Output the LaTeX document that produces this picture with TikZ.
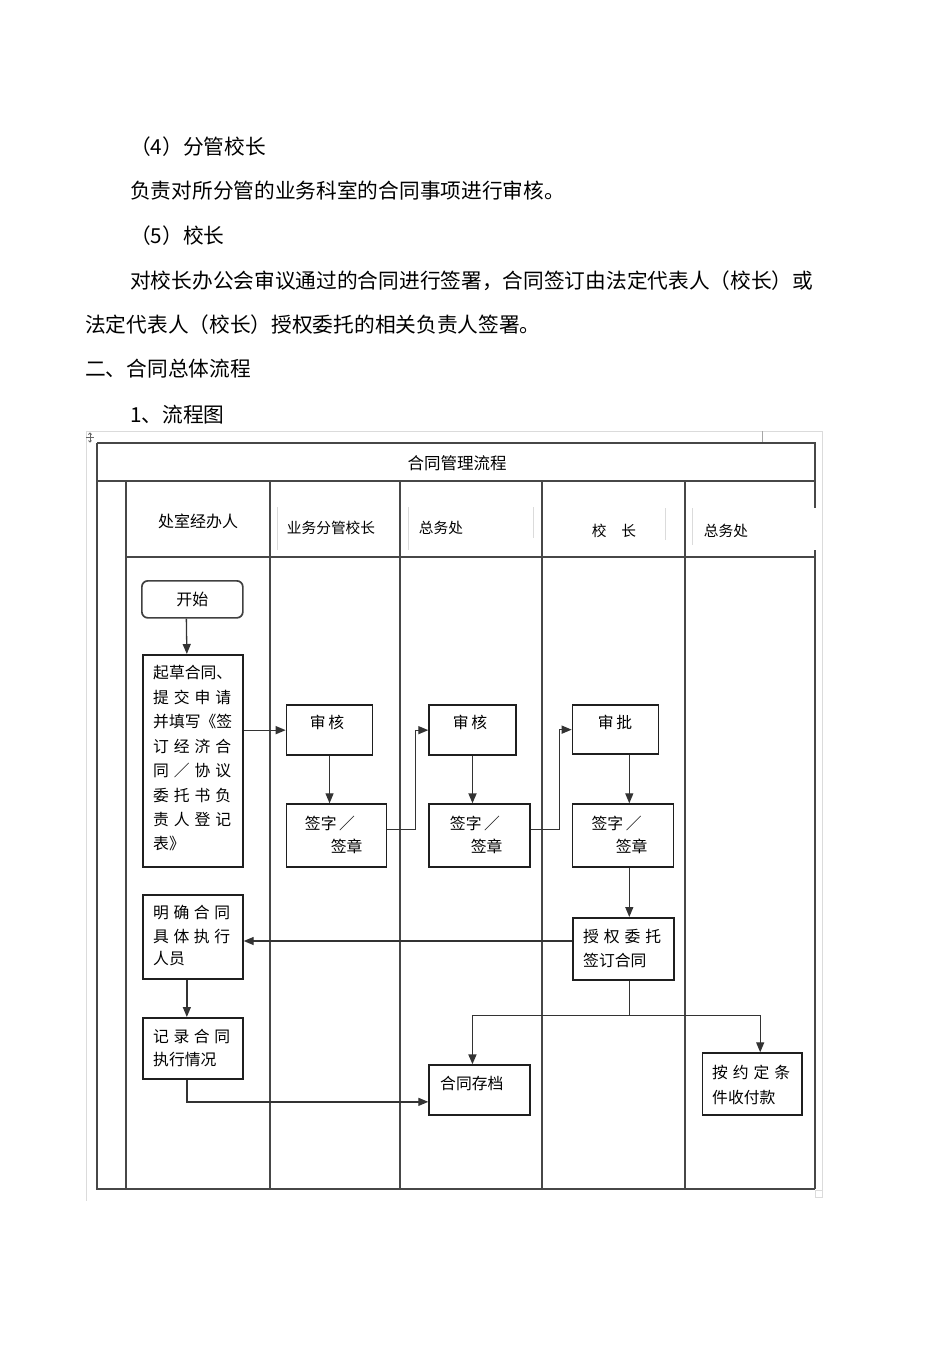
\documentclass[tikz,border=0pt]{standalone}
\usepackage{fontspec}
\setmainfont{Noto Sans CJK SC}
\usetikzlibrary{arrows.meta}
\begin{document}
\begin{tikzpicture}[x=1pt,y=-1pt,
  frame/.style={draw=black!72, line width=1.4pt},
  faint/.style={draw=black!14, line width=1pt},
  faintdark/.style={draw=black!35, line width=1pt},
  box/.style={draw=black!88, line width=1.7pt, rectangle, inner sep=0pt, anchor=north west},
  conn/.style={draw=black!80, line width=1.3pt},
  arr/.style={conn, -{Triangle[length=10pt,width=8pt]}},
  body/.style={anchor=west, inner sep=0pt, font=\fontsize{20.7}{24}\selectfont},
  flow/.style={inner sep=0pt, font=\fontsize{15.8}{19}\selectfont},
  head/.style={inner sep=0pt, font=\fontsize{14.7}{18}\selectfont},
  lt/.style={flow, anchor=west}
]
\useasboundingbox (0,0) rectangle (950,1346);

% ---------- body text ----------
\node[body] (p1) at (130,147) {（4）分管校长};
\node[body] (p2) at (130,191) {负责对所分管的业务科室的合同事项进行审核。};
\node[body] (p3) at (130,236) {（5）校长};
\node[body] (p4) at (130,281) {对校长办公会审议通过的合同进行签署，合同签订由法定代表人（校长）或};
\node[body] (p5) at (85,325) {法定代表人（校长）授权委托的相关负责人签署。};
\node[body] (p6) at (85,369) {二、合同总体流程};
\node[body] (p7) at (130,415) {1、流程图};

% ---------- faint page / table marks ----------
\draw[faint] (86,431) -- (822,431);
\draw[faint] (86,431) -- (86,1201);
\draw[faint] (822,431) -- (822,1197);
\draw[faint] (815,1190) rectangle (822,1197);
\draw[faintdark] (762,431) -- (762,442) -- (788,442);
% move handle
\draw[black!60, line width=0.8pt] (90,433) -- (90,442) (86,437.5) -- (94,437.5);
\draw[black!60, line width=0.8pt] (88.5,434.5) -- (90,433) -- (91.5,434.5)
  (88.5,440.5) -- (90,442) -- (91.5,440.5);
% header cell edges
\draw[faint] (277,507) -- (277,550);
\draw[faint] (408,507) -- (408,550);
\draw[faint] (533,507) -- (533,538);
\draw[faint] (665,508) -- (665,540);
\draw[faint] (692,508) -- (692,545);

% ---------- swimlane frame ----------
\draw[frame] (97,443) -- (815,443) -- (815,508);
\draw[frame] (815,550) -- (815,1189);
\draw[frame] (97,443) -- (97,1189) -- (815,1189);
\draw[frame] (97,481) -- (815,481);
\draw[frame] (126,557) -- (815,557);
\foreach \lx in {126,270,400,542,685}
  \draw[frame] (\lx,481) -- (\lx,1189);

\node[flow, font=\fontsize{16.5}{20}\selectfont] (title) at (457,463) {合同管理流程};
\node[flow, font=\fontsize{16}{20}\selectfont] (h1) at (198,521) {处室经办人};
\node[head] (h2) at (331,528) {业务分管校长};
\node[head] (h3) at (441,528) {总务处};
\node[head] (h4) at (614,531) {校\hspace{1em}长};
\node[head] (h5) at (726,531) {总务处};

% ---------- boxes ----------
\node[box, rounded corners=6pt, draw=black!75, minimum width=101pt, minimum height=37pt] (start) at (141,580) {};
\node[flow, font=\fontsize{16}{20}\selectfont] (start-t) at (start.center) {开始};

\node[box, minimum width=100pt, minimum height=212pt] (draft) at (142,654) {};
\foreach \t [count=\i] in {
  {起\hfill 草\hfill 合\hfill 同\hfill 、},
  {提\hfill 交\hfill 申\hfill 请},
  {并\hfill 填\hfill 写\hfill 《签},
  {订\hfill 经\hfill 济\hfill 合},
  {同\hfill ／\hfill 协\hfill 议},
  {委\hfill 托\hfill 书\hfill 负},
  {责\hfill 人\hfill 登\hfill 记},
  {表》\hfill}}
  \node[lt] (draft-\i) at (153,{673+(\i-1)*24.4}) {\makebox[78pt][s]{\t}};

\node[box, minimum width=86pt, minimum height=50pt] (r1) at (285.7,704.3) {};
\node[flow] (r1-t) at (327,722.7) {审\,核};
\node[box, minimum width=100pt, minimum height=62.7pt] (s1) at (285.7,803.3) {};
\node[flow] (s1-a) at (330,823.3) {签字\,／};
\node[flow] (s1-b) at (346.7,846) {签章};

\node[box, minimum width=86.7pt, minimum height=50pt] (r2) at (428.3,704.3) {};
\node[flow] (r2-t) at (470,722.7) {审\,核};
\node[box, minimum width=101pt, minimum height=62.7pt] (s2) at (428.3,803.3) {};
\node[flow] (s2-a) at (475,823.3) {签字\,／};
\node[flow] (s2-b) at (486.7,846) {签章};

\node[box, minimum width=86pt, minimum height=49pt] (r3) at (571.7,704.3) {};
\node[flow] (r3-t) at (615,722.7) {审\,批};
\node[box, minimum width=101pt, minimum height=62.7pt] (s3) at (571.7,803.3) {};
\node[flow] (s3-a) at (616.7,823.3) {签字\,／};
\node[flow] (s3-b) at (631.7,846) {签章};

\node[box, minimum width=101pt, minimum height=62pt] (auth) at (572,917) {};
\node[lt] (auth-1) at (583,937) {\makebox[78pt][s]{授\hfill 权\hfill 委\hfill 托}};
\node[lt] (auth-2) at (583,960) {签订合同};

\node[box, minimum width=100pt, minimum height=84pt] (clar) at (142,894) {};
\node[lt] (clar-1) at (153,913) {\makebox[77pt][s]{明\hfill 确\hfill 合\hfill 同}};
\node[lt] (clar-2) at (153,936) {\makebox[77pt][s]{具\hfill 体\hfill 执\hfill 行}};
\node[lt] (clar-3) at (153,959) {人员};

\node[box, minimum width=100pt, minimum height=61pt] (rec) at (142,1017) {};
\node[lt] (rec-1) at (153,1036) {\makebox[77pt][s]{记\hfill 录\hfill 合\hfill 同}};
\node[lt] (rec-2) at (153,1059) {执行情况};

\node[box, minimum width=101pt, minimum height=50pt] (arch) at (428.3,1064.3) {};
\node[lt] (arch-t) at (440,1083) {合同存档};

\node[box, minimum width=99.3pt, minimum height=62pt] (pay) at (701.7,1052.3) {};
\node[lt] (pay-1) at (712,1072) {\makebox[78pt][s]{按\hfill 约\hfill 定\hfill 条}};
\node[lt] (pay-2) at (712,1097) {件收付款};

% ---------- connectors ----------
\coordinate (cx) at (629.3,0);
\coordinate (sp) at (629.3,1015.5);
\coordinate (ay) at (0,941);

\draw[arr] ([xshift=-6pt]start.south) -- ([xshift=-6pt]draft.north);
\draw[arr] (draft.east |- r1.west) -- (r1.west);
\draw[arr] (r1.south) -- (r1.south |- s1.north);
\draw[arr] ([yshift=6.3pt]s1.east) -- ++(28.3,0) |- (r2.west);
\draw[arr, line width=1.8pt] (r2.south) -- (r2.south |- s2.north);
\draw[arr] ([yshift=6.3pt]s2.east) -- ++(28.4,0) |- (r3.west);
\draw[arr] (r3.south -| cx) -- (s3.north -| cx);
\draw[arr] (s3.south -| cx) -- (auth.north -| cx);
\draw[arr] (auth.west |- ay) -- (clar.east |- ay);
\draw[arr] ([xshift=-6pt]clar.south) -- ([xshift=-6pt]rec.north);
\draw[arr] ([xshift=-6pt]rec.south) |- ([yshift=-11.7pt]arch.west);
\draw[conn] (auth.south -| sp) -- (sp);
\draw[arr, line width=1.8pt] (sp) -| ([xshift=-7.2pt]arch.north);
\draw[arr] (sp) -| ([xshift=8pt]pay.north);
\end{tikzpicture}
\end{document}
